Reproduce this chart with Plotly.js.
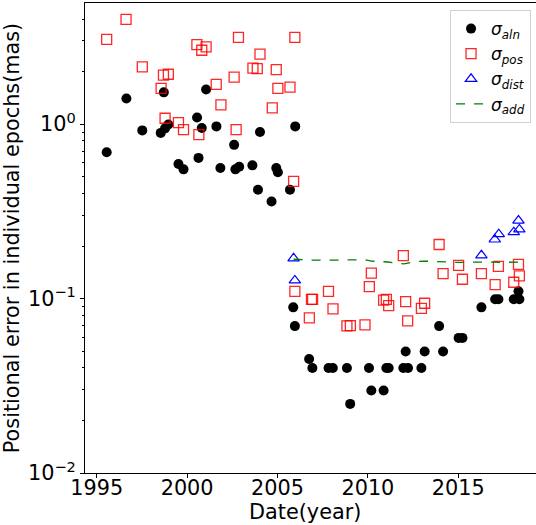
<!DOCTYPE html>
<html>
<head>
<meta charset="utf-8">
<script src="https://cdn.plot.ly/plotly-3.0.1.min.js"></script>
<style>
html,body{margin:0;padding:0;background:#fff;overflow:hidden;}
#chart{width:536px;height:525px;}
</style>
</head>
<body>
<div id="chart"></div>
<script>
// sigma_aln (black dots)
const alnYears = [1995.55,1996.64,1997.52,1998.71,1998.54,1998.78,1998.96,1999.52,1999.80,2000.55,2000.81,2000.63,2001.05,2001.62,2001.84,2002.60,2002.67,2002.88,2003.61,2004.03,2003.92,2004.67,2004.93,2005.02,2005.69,2005.98,
  2005.87,2005.96,2006.75,2006.93,2007.82,2008.06,2008.84,2009.02,2010.06,2010.19,2010.87,2011.02,2011.15,2011.96,2012.22,2012.09,2012.96,2013.14,2013.94,2014.16,2015.02,2015.23,2016.28,2017.04,2017.22,2018.07,2018.33,2018.38];
const alnValues = [0.69,1.40,0.92,1.52,0.89,0.945,0.995,0.59,0.55,1.09,0.95,0.64,1.58,0.97,0.56,0.76,0.55,0.57,0.58,0.90,0.42,0.36,0.56,0.53,0.42,0.97,
  0.089,0.0695,0.045,0.040,0.040,0.040,0.040,0.0249,0.040,0.0297,0.0297,0.040,0.040,0.040,0.040,0.0497,0.040,0.0497,0.0695,0.0497,0.0595,0.0595,0.089,0.099,0.099,0.099,0.110,0.099];

// sigma_pos (red squares)
const posYears = [1995.55,1996.62,1997.52,1998.69,1998.96,1998.56,1998.78,1999.52,1999.80,2000.54,2000.81,2001.05,2000.65,2001.61,2001.87,2002.84,2002.60,2002.71,2004.03,2003.64,2003.88,2004.93,2005.02,2004.71,2005.69,2005.96,2005.89,
  2005.96,2006.88,2006.94,2006.76,2007.82,2008.07,2008.84,2009.03,2009.84,2010.08,2010.19,2010.87,2011.02,2011.15,2011.96,2012.09,2012.20,2012.96,2013.14,2013.94,2014.16,2015.02,2015.23,2016.28,2017.04,2017.22,2018.07,2018.33,2018.38];
const posValues = [3.06,3.98,2.13,1.91,1.93,1.60,1.08,1.02,0.93,2.85,2.65,2.77,0.87,1.69,1.29,3.14,1.86,0.93,2.52,2.09,2.08,2.05,1.60,1.24,1.63,3.14,0.47,
  0.110,0.099,0.099,0.0775,0.110,0.0873,0.0697,0.070,0.0707,0.117,0.140,0.098,0.099,0.091,0.176,0.096,0.0745,0.0878,0.094,0.204,0.139,0.155,0.129,0.139,0.120,0.153,0.124,0.157,0.135];

// sigma_dist (blue triangles)
const distYears = [2005.89,2005.96,2016.28,2017.02,2017.24,2018.07,2018.33,2018.38];
const distValues = [0.170,0.127,0.177,0.218,0.234,0.240,0.280,0.249];

// sigma_add (green dashed line)
const addYears = [2005.89,2006.9,2008.0,2009.8,2010.2,2011.1,2012.0,2012.5,2013.1,2014.0,2015.0,2016.5,2017.4,2018.4];
const addValues = [0.168,0.166,0.166,0.167,0.164,0.162,0.158,0.162,0.164,0.162,0.161,0.162,0.161,0.162];

const yTickVals = [0.01,0.1,1];
const yTickText = ['10<sup>\u22122</sup>','10<sup>\u22121</sup>','10<sup>0</sup>'];
const xTickVals = [1995,2000,2005,2010,2015];

const minorVals = [];
[0.01,0.1,1].forEach(d => { for (let k=2;k<=9;k++){ const v=k*d; if (v<4.9) minorVals.push(v);} });

const font = 'DejaVu Sans, sans-serif';

const traces = [
  {x: alnYears, y: alnValues, type:'scatter', mode:'markers', name:'<i>σ</i><sub><i>aln</i></sub>',
   marker:{symbol:'circle', size:10, color:'#000'}},
  {x: posYears, y: posValues, type:'scatter', mode:'markers', name:'<i>σ</i><sub><i>pos</i></sub>',
   marker:{symbol:'square-open', size:10, color:'rgba(255,0,0,0.85)', line:{width:1.3}}},
  {x: distYears, y: distValues, type:'scatter', mode:'markers', name:'<i>σ</i><sub><i>dist</i></sub>',
   marker:{symbol:'triangle-up-open', size:10, color:'#0000ff', line:{width:1.2}}},
  {x: addYears, y: addValues, type:'scatter', mode:'lines', name:'<i>σ</i><sub><i>add</i></sub>',
   line:{color:'#008000', width:1.3, dash:'dash'}}
];

const layout = {
  width:536, height:525,
  margin:{l:85, r:0, t:3, b:52},
  paper_bgcolor:'#fff', plot_bgcolor:'#fff',
  font:{family:font, size:20.8, color:'#000'},
  showlegend:true,
  legend:{x:0.989, y:0.985, xanchor:'right', yanchor:'top', bgcolor:'#fff',
    bordercolor:'#d0d0d0', borderwidth:1, font:{family:font, size:17}, itemwidth:30},
  xaxis:{range:[1994.35,2019.3], tickmode:'array', tickvals:xTickVals, ticktext:xTickVals.map(String),
    ticks:'outside', ticklen:4, tickwidth:1, tickcolor:'#000', showline:true, linecolor:'#000', linewidth:1,
    mirror:true, showgrid:false, zeroline:false, tickfont:{size:20.8}, ticklabelstandoff:-8},
  yaxis:{type:'log', range:[-2, 0.694], tickmode:'array', tickvals:yTickVals, ticktext:yTickText,
    ticks:'outside', ticklen:4, tickwidth:1, tickcolor:'#000', showline:true, linecolor:'#000', linewidth:1,
    showgrid:false, zeroline:false, tickfont:{size:20.8},
    minor:{tickmode:'array', tickvals:minorVals, ticks:'outside', ticklen:2.5, tickcolor:'#000', showgrid:false},
    title:{text:'Positional error in individual epochs(mas)', font:{size:20.8}, standoff:4}},
  annotations:[{text:'Date(year)', xref:'paper', yref:'paper', x:0.488, y:-0.083, xanchor:'center', yanchor:'middle',
    showarrow:false, font:{family:font, size:20.8, color:'#000'}}]
};

Plotly.newPlot('chart', traces, layout, {displayModeBar:false, staticPlot:true});
</script>
</body>
</html>
